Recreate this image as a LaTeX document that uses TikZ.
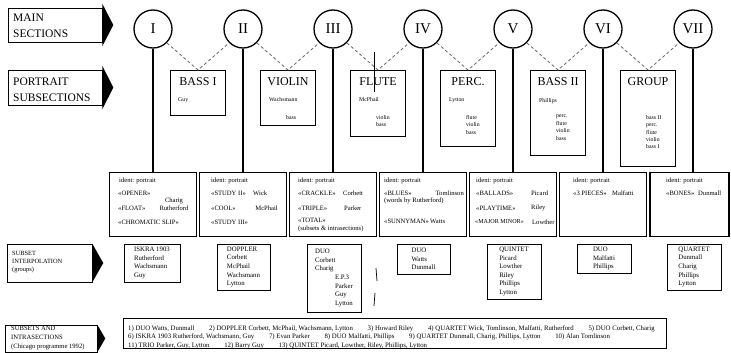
\documentclass[tikz,border=0pt]{standalone}
\usepackage{fontspec}
\setmainfont{Liberation Serif}
\usetikzlibrary{positioning}

\begin{document}
\begin{tikzpicture}[x=1pt,y=1pt,yscale=-1,xscale=1,
  sec/.style={draw,circle,line width=1.3pt,minimum size=38pt,inner sep=0pt,font=\fontsize{15}{15}\selectfont},
  subbox/.style={draw,line width=0.6pt,anchor=north,minimum width=55pt,inner sep=0pt},
  subtitle/.style={inner sep=0pt,font=\fontsize{12}{12}\selectfont},
  subnote/.style={inner sep=0pt,anchor=west,font=\fontsize{5.8}{7.4}\selectfont},
  sublist/.style={inner sep=0pt,anchor=north west,align=left,font=\fontsize{5.8}{7.4}\selectfont},
  portbox/.style={draw,line width=1.3pt,anchor=north,minimum height=64pt,inner sep=0pt},
  ptxt/.style={inner sep=0pt,anchor=west,font=\fontsize{6.6}{8}\selectfont},
  grpbox/.style={draw,line width=0.6pt,inner sep=0pt,align=left,font=\fontsize{6.8}{8.6}\selectfont},
  labbox/.style={draw,line width=0.6pt,inner sep=0pt},
  labtext/.style={inner sep=0pt,anchor=west,align=left},
  link/.style={draw=black!60,line width=0.8pt,dash pattern=on 3pt off 2.5pt},
  stem/.style={line width=1.3pt}
]
\useasboundingbox (0,0) rectangle (731,353);

%Shape: Label boxes
\node[labbox,minimum width=94pt,minimum height=34pt] (lab1) at (55,25) {};
\fill ([yshift=-4pt]lab1.north east) -- ([xshift=11pt]lab1.east) -- ([yshift=4pt]lab1.south east) -- cycle;
\node[labtext,font=\fontsize{11.5}{16.5}\selectfont] (lab1t) at (13,26) {MAIN\\SECTIONS};

\node[labbox,minimum width=94pt,minimum height=35pt] (lab2) at (55,87.5) {};
\fill ([yshift=-4pt]lab2.north east) -- ([xshift=11pt]lab2.east) -- ([yshift=4pt]lab2.south east) -- cycle;
\node[labtext,font=\fontsize{11.5}{16.5}\selectfont] (lab2t) at (13,89.5) {PORTRAIT\\SUBSECTIONS};

\node[labbox,minimum width=85pt,minimum height=38pt] (lab3) at (49.5,263) {};
\fill (lab3.north east) -- ([xshift=11pt]lab3.east) -- (lab3.south east) -- cycle;
\node[labtext,font=\fontsize{6.4}{8}\selectfont] (lab3t) at (12,262) {SUBSET\\INTERPOLATION\\(groups)};

\node[labbox,minimum width=92pt,minimum height=27pt] (lab4) at (51,338.5) {};
\fill (lab4.north east) -- ([xshift=8pt]lab4.east) -- (lab4.south east) -- cycle;
\node[labtext,font=\fontsize{6.6}{8.8}\selectfont] (lab4t) at (11,338) {SUBSETS AND\\INTRASECTIONS\\(Chicago programme 1992)};

%Shape: Circle (main sections)
\node[sec] (sec1) at (153,29) {I};
\node[sec] (sec2) at (243,29) {II};
\node[sec] (sec3) at (333,29) {III};
\node[sec] (sec4) at (423,29) {IV};
\node[sec] (sec5) at (513,29) {V};
\node[sec] (sec6) at (603,29) {VI};
\node[sec] (sec7) at (693,29) {VII};

%Shape: Rectangle (portrait subsections)
\node[subbox,minimum height=45pt] (sub1) at (198,70) {};
\node[subbox,minimum height=55pt] (sub2) at (288,70) {};
\node[subbox,minimum height=66pt] (sub3) at (378,70) {};
\node[subbox,minimum height=76pt] (sub4) at (468,70) {};
\node[subbox,minimum height=85pt] (sub5) at (558,70) {};
\node[subbox,minimum height=96pt] (sub6) at (648,70) {};

% Text Node
\node[subtitle] (sub1t) at (198,82) {BASS I};
\node[subnote] (sub1a) at (178,100) {Guy};

\node[subtitle] (sub2t) at (288,82) {VIOLIN};
\node[subnote] (sub2a) at (269,100) {Wachsmann};
\node[sublist] (sub2b) at (286,115) {bass};

\node[subtitle] (sub3t) at (378,82) {FLUTE};
\node[subnote] (sub3a) at (359,100) {McPhail};
\node[sublist] (sub3b) at (376,115) {violin\\bass};

\node[subtitle] (sub4t) at (468,82) {PERC.};
\node[subnote] (sub4a) at (449,100) {Lytton};
\node[sublist] (sub4b) at (466,115) {flute\\violin\\bass};

\node[subtitle] (sub5t) at (558,82) {BASS II};
\node[subnote] (sub5a) at (539,101) {Phillips};
\node[sublist] (sub5b) at (556,115) {perc.\\flute\\violin\\bass};

\node[subtitle] (sub6t) at (648,82) {GROUP};
\node[sublist] (sub6b) at (646,115) {bass II\\perc.\\flute\\violin\\bass I};

%Straight Lines (dashed links)
\draw[link] (sec1.south east) -- (sub1.north) -- (sec2.south west);
\draw[link] (sec2.south east) -- (sub2.north) -- (sec3.south west);
\draw[link] (sec3.south east) -- (sub3.north) -- (sec4.south west);
\draw[link] (sec4.south east) -- (sub4.north) -- (sec5.south west);
\draw[link] (sec5.south east) -- (sub5.north) -- (sec6.south west);
\draw[link] (sec6.south east) -- (sub6.north) -- (sec7.south west);

%Shape: Rectangle (portraits)
\node[portbox,minimum width=87pt] (port1) at (153,172) {};
\node[portbox,minimum width=87pt] (port2) at (243,172) {};
\node[portbox,minimum width=87pt] (port3) at (333,172) {};
\node[portbox,minimum width=87pt] (port4) at (423,172) {};
\node[portbox,minimum width=87pt] (port5) at (513,172) {};
\node[portbox,minimum width=87pt] (port6) at (603,172) {};
\node[portbox,minimum width=79pt] (port7) at (689.5,172) {};

%Straight Lines (stems)
\draw[stem] (sec1.south) -- (sec1 |- port1.north);
\draw[stem] (sec2.south) -- (sec2 |- port2.north);
\draw[stem] (sec3.south) -- (sec3 |- port3.north);
\draw[stem] (sec4.south) -- (sec4 |- port4.north);
\draw[stem] (sec5.south) -- (sec5 |- port5.north);
\draw[stem] (sec6.south) -- (sec6 |- port6.north);
\draw[stem] (sec7.south) -- (sec7 |- port7.north);

% Text Node
\node[ptxt] (p1a) at (119,181) {ident: portrait};
\node[ptxt] (p1b) at (118,193) {«OPENER»};
\node[ptxt] (p1c) at (118,208) {«FLOAT»};
\node[ptxt] (p1d) at (118,222) {«CHROMATIC SLIP»};
\node[ptxt,anchor=center,align=center] (p1e) at (174,204) {Charig\\Rutherford};

\node[ptxt] (p2a) at (211,181) {ident: portrait};
\node[ptxt] (p2b) at (211,193) {«STUDY II»};
\node[ptxt] (p2c) at (253,193) {Wick};
\node[ptxt] (p2d) at (211,208) {«COOL»};
\node[ptxt,anchor=east] (p2e) at (278,208) {McPhail};
\node[ptxt] (p2f) at (211,222) {«STUDY III»};

\node[ptxt] (p3a) at (298,181) {ident: portrait};
\node[ptxt] (p3b) at (298,193) {«CRACKLE»};
\node[ptxt] (p3c) at (343,193) {Corbett};
\node[ptxt] (p3d) at (298,208) {«TRIPLE»};
\node[ptxt] (p3e) at (344,208) {Parker};
\node[ptxt] (p3f) at (298,220) {«TOTAL»};
\node[ptxt] (p3g) at (298,228.5) {(subsets \& intrasections)};

\node[ptxt] (p4a) at (384,181) {ident: portrait};
\node[ptxt] (p4b) at (384,193) {«BLUES»};
\node[ptxt,anchor=east] (p4c) at (464,193) {Tomlinson};
\node[ptxt] (p4d) at (384,200.5) {(words by Rutherford)};
\node[ptxt] (p4e) at (384,221) {«SUNNYMAN»};
\node[ptxt] (p4f) at (430,221) {Watts};

\node[ptxt] (p5a) at (476,181) {ident: portrait};
\node[ptxt] (p5b) at (476,193) {«BALLADS»};
\node[ptxt] (p5c) at (531,193) {Picard};
\node[ptxt] (p5d) at (476,208) {«PLAYTIME»};
\node[ptxt] (p5e) at (531,208) {Riley};
\node[ptxt,font=\fontsize{6.1}{8}\selectfont] (p5f) at (475,222) {«MAJOR MINOR»};
\node[ptxt] (p5g) at (532,222) {Lowther};

\node[ptxt] (p6a) at (573,181) {ident: portrait};
\node[ptxt] (p6b) at (573,193) {«3 PIECES»};
\node[ptxt] (p6c) at (612,193) {Malfatti};

\node[ptxt] (p7a) at (666,181) {ident: portrait};
\node[ptxt] (p7b) at (666,193) {«BONES»};
\node[ptxt] (p7c) at (698,193) {Dunmall};

%Shape: Rectangle (subset groups)
\node[grpbox,minimum width=56pt,minimum height=38pt] (grp1) at (152,263) {ISKRA 1903\\Rutherford\\Wachsmann\\Guy};
\node[grpbox,minimum width=53pt,minimum height=46pt] (grp2) at (243.5,267) {DOPPLER\\Corbett\\McPhail\\Wachsmann\\Lytton};
\node[grpbox,minimum width=54pt,minimum height=68pt] (grp3) at (334,278) {DUO\\Corbett\\Charig\\\hspace*{20pt}E.P.3\\\hspace*{20pt}Parker\\\hspace*{20pt}Guy\\\hspace*{20pt}Lytton};
\node[grpbox,minimum width=53pt,minimum height=30pt] (grp4) at (423.5,259) {DUO\\Watts\\Dunmall};
\node[grpbox,minimum width=54pt,minimum height=55pt] (grp5) at (514,271.5) {QUINTET\\Picard\\Lowther\\Riley\\Phillips\\Lytton};
\node[grpbox,minimum width=54pt,minimum height=29pt] (grp6) at (604,258.5) {DUO\\Malfatti\\Phillips};
\node[grpbox,minimum width=54pt,minimum height=46pt] (grp7) at (694,267) {QUARTET\\Dunmall\\Charig\\Phillips\\Lytton};

%Straight Lines (pencil marks)
\draw[line width=0.8pt] (374,52) -- (374,92);
\draw[line width=0.7pt] (376,268) -- (377,281);
\draw[line width=0.7pt] (375,293) -- (374,306);

%Shape: Rectangle (subsets and intrasections)
\node[labbox,minimum width=543pt,minimum height=30pt] (band) at (394.5,333) {};
\node[labtext,font=\fontsize{6.8}{8.5}\selectfont] (bandt) at (128,337) {%
1) DUO\ Watts, Dunmall\hspace{13pt} 2) DOPPLER\ Corbett, McPhail, Wachsmann, Lytton\hspace{13pt} 3) Howard Riley\hspace{13pt} 4) QUARTET\ Wick, Tomlinson, Malfatti, Rutherford\hspace{13pt} 5) DUO\ Corbett, Charig\\
6) ISKRA 1903\ Rutherford, Wachsmann, Guy\hspace{13pt} 7) Evan Parker\hspace{13pt} 8) DUO\ Malfatti, Phillips\hspace{13pt} 9) QUARTET\ Dunmall, Charig, Phillips, Lytton\hspace{13pt} 10) Alan Tomlinson\\
11) TRIO\ Parker, Guy, Lytton\hspace{13pt} 12) Barry Guy\hspace{13pt} 13) QUINTET\ Picard, Lowther, Riley, Phillips, Lytton};

\end{tikzpicture}
\end{document}
